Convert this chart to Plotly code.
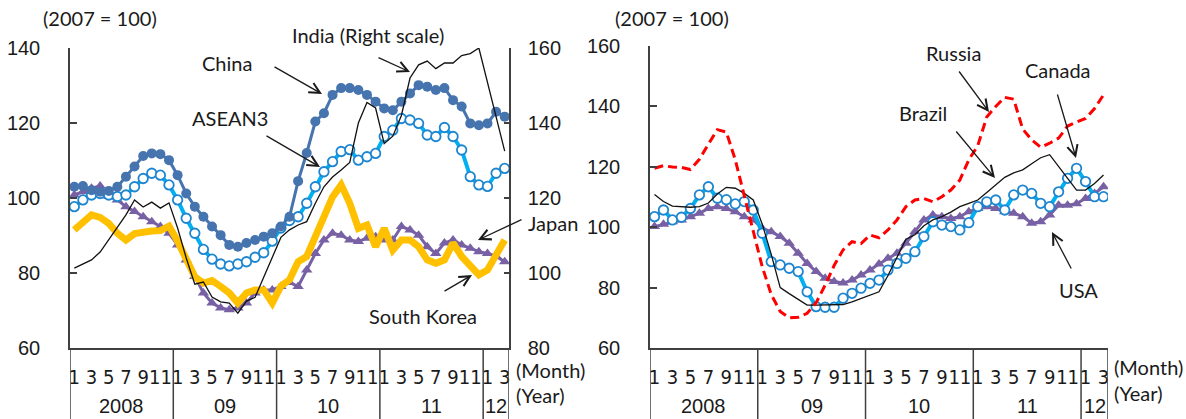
import plotly.graph_objects as go

# ---------------- data (monthly, Jan 2008 - Mar 2012) ----------------
n_months = 51
months = list(range(n_months))
year_labels = ["2008", "09", "10", "11", "12"]
year_bounds = [-0.5, 11.5, 23.5, 35.5, 47.5, 50.5]

# Left panel (2007 = 100)
china = [103, 103.2, 102.1, 101.7, 101.9, 103, 105.7, 108.4, 111.2, 111.9, 111.7, 110.1,
         106.1, 101.2, 97.7, 95, 92.4, 90.1, 87.5, 87, 88, 88.8, 89.7, 90.6,
         92.4, 95, 104.5, 112, 120.4, 122.6, 127.5, 129.3, 129.3, 128.8, 127.5, 125.7,
         123.9, 123.4, 125.7, 127.9, 130.1, 129.7, 128.8, 129.3, 126.1, 124.4, 119.9, 119.4,
         119.9, 123, 121.7]
asean3 = [97.7, 99.5, 100.8, 101.2, 100.8, 100.4, 100.8, 103, 105.2, 106.6, 106.1, 103.5,
          99.5, 94.6, 90.6, 86.3, 83.7, 82.4, 81.9, 82.4, 83, 84.2, 85.4, 88.5,
          92, 94, 95, 98.6, 103, 107, 109.7, 112.4, 112.9, 110.1, 111, 111.9,
          116.4, 118.1, 121.2, 120.8, 119.9, 116.8, 116.4, 118.8, 116.4, 112.8, 105.7, 103.5,
          103.1, 106.6, 107.9]
japan = [100.8, 101.7, 102.6, 103.2, 100.4, 99.5, 97.7, 96.4, 95, 93.7, 92.4, 90.6,
         87.5, 83.5, 79.1, 74.7, 72, 70.7, 70.2, 70.7, 72, 74.7, 75.5, 75.5,
         76.4, 77.5, 76.4, 80.8, 85.2, 88.8, 90.6, 90.1, 88.8, 88.4, 89.3, 89.7,
         88.8, 88.8, 92.4, 91.5, 90.1, 87, 85.2, 88, 88.8, 87.5, 86.6, 85.7,
         85.2, 84.5, 83]
south_korea = [91.5, 93.5, 95.5, 94.8, 93.2, 90.6, 88.8, 90.5, 91, 91.2, 91.3, 92.5,
               88.5, 83.5, 79, 77.3, 78, 76.4, 74.7, 72, 74.7, 75.5, 75.5, 72,
               76.5, 78.2, 83, 84.4, 89.7, 95, 100.3, 103.5, 98.6, 91.9, 92.8, 87,
               91.9, 86.1, 88.8, 88.8, 87, 83.5, 82.6, 83.5, 88, 84.4, 81.7, 79.5,
               80.8, 84.4, 88.8]
# India on the right scale (80-160)
india = [101.3, 102.3, 103.5, 105.6, 108.8, 112, 115.5, 119.5, 117.6, 118.9, 117.3, 118.7,
         112, 104, 97, 97.6, 93.6, 92.3, 92, 89.3, 92.5, 93.5, 99, 104.5,
         109.5, 111.5, 112.8, 113.7, 118.6, 123, 125.6, 127.5, 129.5, 140, 145.5, 144,
         134.5, 136.5, 142, 152, 155.5, 156.5, 154.5, 156, 156, 158, 158.5, 160,
         151, 142, 132.5]

# Right panel (2007 = 100)
russia = [119.5, 120.4, 119.9, 119.8, 119.1, 122.5, 127.5, 132.3, 131.5, 122.3, 110.4, 99.1,
          86.9, 77.7, 72.1, 70, 70.2, 71.5, 75, 80.8, 87.3, 92.5, 95.2, 94.6,
          97.4, 96.5, 99.1, 102.4, 106.8, 109, 109.5, 108.4, 110.1, 112.3, 115.6, 122.3,
          127, 136.5, 140, 143, 142.4, 132.5, 128.9, 126.5, 127.8, 129.5, 133.5, 134.8,
          136, 139.3, 143.8]
canada = [103.5, 105.7, 102.4, 103.3, 106.2, 110.7, 113.4, 109.6, 109.1, 107.7, 108.5, 105.7,
          98, 88.6, 87.5, 86.4, 85.3, 78.6, 73.7, 73.5, 73.5, 76.5, 78.1, 79.8,
          81.4, 82.5, 85.8, 88, 89.7, 91.9, 96.9, 101.8, 100.7, 100.2, 99.1, 101.5,
          106.8, 108.4, 109, 105.7, 110.7, 112.3, 111.2, 107.9, 106.8, 111.7, 116.2, 119.5,
          115.1, 110.1, 110.1]
usa = [100.2, 101, 101.8, 102.4, 103.5, 104.6, 106.2, 106.8, 106.2, 105.1, 103.5, 102.4,
       99.6, 98.5, 96.9, 94.7, 91.4, 88, 85.3, 83.1, 82, 81.5, 82.5, 84.2,
       85.8, 87.8, 89.7, 91.4, 94.7, 98.5, 102.4, 104, 103.5, 102.9, 103.5, 105.1,
       106.2, 106.8, 106.2, 105.1, 104.6, 103.5, 101.3, 101.8, 104, 107.3, 107.3, 107.8,
       109.5, 111.2, 113.4]
brazil = [110.8, 108.5, 107, 106.8, 106.6, 106.8, 108, 111, 113.2, 112.9, 111.2, 109,
          101, 91, 80, 78, 76, 74.2, 74.2, 74.2, 74.2, 74.4, 75.3, 76.4,
          77.5, 78.6, 84, 90, 96, 97.5, 100.5, 102.4, 103.5, 105, 106.8, 107.9,
          109, 111.5, 114, 116.5, 118, 119, 121, 123, 124, 120, 116, 112.3,
          112.3, 114.5, 117.3]

# ---------------- helpers ----------------
W, H = 1186, 419


def px(x):
    return x / W


def py(y):
    return 1 - y / H


tick_idx = [i for i in months if (i % 12) % 2 == 0]
tick_txt = [str(i % 12 + 1) for i in tick_idx]
year_centers = [(year_bounds[k] + year_bounds[k + 1]) / 2 for k in range(len(year_labels))]

TXT = "#1a1a1a"
AX = "#404040"
LBL_FONT = dict(family="Lato, Open Sans, sans-serif", size=20, color=TXT)
TICK_FONT = dict(family="Liberation Sans, Arial, sans-serif", size=20, color=TXT)
MONTH_FONT = dict(family="Liberation Sans Narrow, Arial Narrow, DejaVu Sans Condensed, sans-serif",
                  size=20, color=TXT)

LIGHT_BLUE = "#00B0F0"
CIRCLE_EDGE = "#1E86D0"
DARK_BLUE = "#4674AE"
PURPLE = "#7760A3"
ORANGE = "#FFC000"

fig = go.Figure()

# ---- left panel ----
fig.add_trace(go.Scatter(x=months, y=japan, mode="lines+markers", name="Japan",
                         line=dict(color=PURPLE, width=3),
                         marker=dict(symbol="triangle-up", size=10, color=PURPLE),
                         xaxis="x", yaxis="y"))
fig.add_trace(go.Scatter(x=months, y=south_korea, mode="lines", name="South Korea",
                         line=dict(color=ORANGE, width=7), xaxis="x", yaxis="y"))
fig.add_trace(go.Scatter(x=months, y=asean3, mode="lines+markers", name="ASEAN3",
                         line=dict(color=LIGHT_BLUE, width=4),
                         marker=dict(symbol="circle", size=9.5, color="white",
                                     line=dict(color=CIRCLE_EDGE, width=1.8)),
                         xaxis="x", yaxis="y"))
fig.add_trace(go.Scatter(x=months, y=china, mode="lines+markers", name="China",
                         line=dict(color=DARK_BLUE, width=3),
                         marker=dict(symbol="circle", size=10, color=DARK_BLUE),
                         xaxis="x", yaxis="y"))
fig.add_trace(go.Scatter(x=months, y=india, mode="lines", name="India",
                         line=dict(color="#111111", width=1.3), xaxis="x", yaxis="y2"))

# ---- right panel ----
fig.add_trace(go.Scatter(x=months, y=usa, mode="lines+markers", name="USA",
                         line=dict(color=PURPLE, width=3),
                         marker=dict(symbol="triangle-up", size=10, color=PURPLE),
                         xaxis="x2", yaxis="y3"))
fig.add_trace(go.Scatter(x=months, y=canada, mode="lines+markers", name="Canada",
                         line=dict(color=LIGHT_BLUE, width=4),
                         marker=dict(symbol="circle", size=9.5, color="white",
                                     line=dict(color=CIRCLE_EDGE, width=1.8)),
                         xaxis="x2", yaxis="y3"))
fig.add_trace(go.Scatter(x=months, y=brazil, mode="lines", name="Brazil",
                         line=dict(color="#111111", width=1.3), xaxis="x2", yaxis="y3"))
fig.add_trace(go.Scatter(x=months, y=russia, mode="lines", name="Russia",
                         line=dict(color="#FF0000", width=3, dash="9px,5px"),
                         xaxis="x2", yaxis="y3"))

xcommon = dict(range=[-0.5, 50.5], showgrid=False, zeroline=False, showline=True,
               linecolor=AX, linewidth=1.5, ticks="", tickvals=tick_idx, ticktext=tick_txt,
               tickfont=MONTH_FONT, tickangle=0, ticklabelstandoff=10, fixedrange=True,
               automargin=False)
ycommon = dict(showgrid=False, zeroline=False, showline=True, linecolor=AX, linewidth=1.5,
               ticks="inside", tickcolor=AX, tickwidth=1.5, dtick=20, tickfont=TICK_FONT,
               fixedrange=True, automargin=False)

fig.update_layout(
    width=W, height=H, autosize=False, margin=dict(l=0, r=0, t=0, b=0, pad=0, autoexpand=False),
    paper_bgcolor="white", plot_bgcolor="white", showlegend=False,
    xaxis=dict(domain=[px(70), px(509)], anchor="y", **xcommon),
    yaxis=dict(domain=[py(348), py(48)], range=[60, 140], anchor="x", ticklen=7,
               ticklabelstandoff=24, **ycommon),
    yaxis2=dict(overlaying="y", side="right", anchor="x", range=[80, 160], ticklen=5,
                ticklabelstandoff=13, **ycommon),
    xaxis2=dict(domain=[px(650), px(1108)], anchor="y3", **xcommon),
    yaxis3=dict(domain=[py(348), py(46)], range=[60, 160], anchor="x2", ticklen=7,
                ticklabelstandoff=24, **ycommon),
)

# ---- year separators and year labels under both panels ----
shapes = []
annotations = []
for xa in ("x", "x2"):
    for b in year_bounds:
        shapes.append(dict(type="line", xref=xa, yref="paper", x0=b, x1=b,
                           y0=0, y1=py(348), line=dict(color=AX, width=1.5)))
    for lab, c in zip(year_labels, year_centers):
        annotations.append(dict(text=lab, x=c, xref=xa, y=py(406), yref="paper",
                                showarrow=False, font=TICK_FONT, xanchor="center",
                                yanchor="middle"))

# ---- texts ----
texts = [
    ("(2007 = 100)", 100, 18, "center"),
    ("(2007 = 100)", 672, 18, "center"),
    ("China", 227, 63, "center"),
    ("ASEAN3", 230, 118, "center"),
    ("India (Right scale)", 368, 35, "center"),
    ("Japan", 553, 223, "center"),
    ("South Korea", 423, 316, "center"),
    ("Russia", 953, 53, "center"),
    ("Canada", 1058, 70, "center"),
    ("Brazil", 923, 113, "center"),
    ("USA", 1078, 290, "center"),
    ("(Month)", 514, 370, "left"),
    ("(Year)", 514, 395, "left"),
    ("(Month)", 1112, 367, "left"),
    ("(Year)", 1112, 393, "left"),
]
for t, x, y, anc in texts:
    annotations.append(dict(text=t, x=px(x), y=py(y), xref="paper", yref="paper",
                            showarrow=False, font=LBL_FONT, xanchor=anc, yanchor="middle"))

# ---- arrows (tail -> head) ----
arrows = [
    ((273, 66), (322, 94)),
    ((265, 135), (320, 167)),
    ((377, 57), (410, 72)),
    ((523, 219), (478, 240)),
    ((443, 292), (472, 275)),
    ((958, 70), (989, 112)),
    ((1057, 93), (1076, 158)),
    ((955, 130), (995, 178)),
    ((1072, 270), (1052, 232)),
]
for (tx, ty), (hx, hy) in arrows:
    annotations.append(dict(text="", x=px(hx), y=py(hy), xref="paper", yref="paper",
                            ax=tx - hx, ay=ty - hy, axref="pixel", ayref="pixel",
                            showarrow=True, arrowhead=5, arrowsize=1.6, arrowwidth=1.3,
                            arrowcolor=TXT, standoff=0, startstandoff=0))

fig.update_layout(shapes=shapes, annotations=annotations)
fig.write_html("out.html", config={"displayModeBar": False},
               post_script="document.body.style.margin='0';"
                           "document.body.style.padding='0';"
                           "document.body.style.overflow='hidden';")
